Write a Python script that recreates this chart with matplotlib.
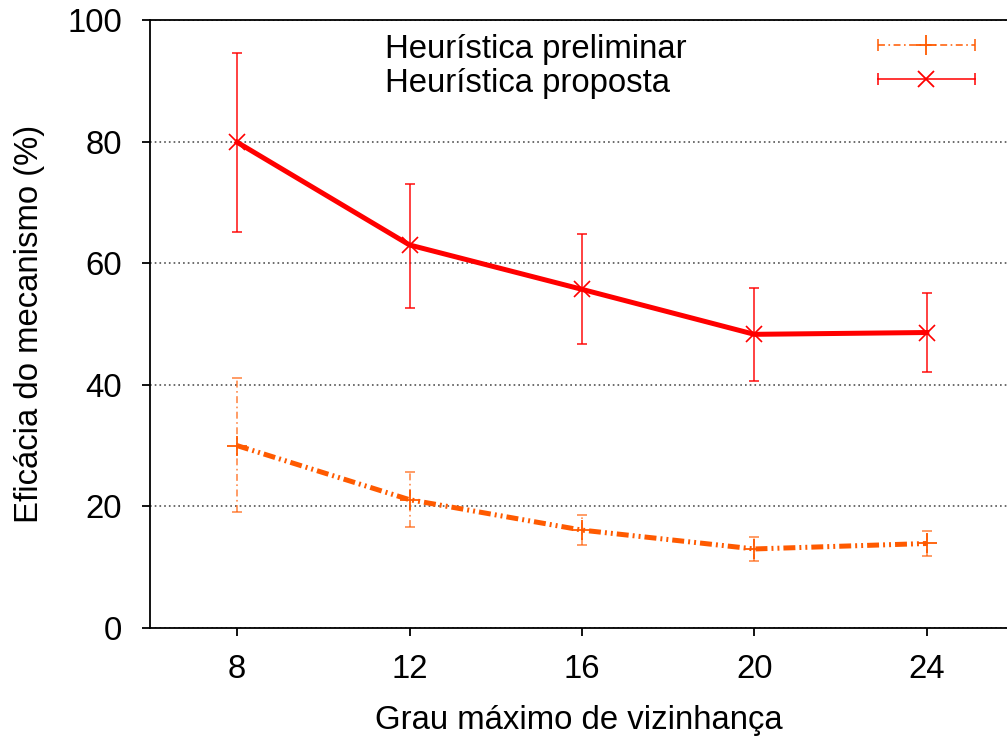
import matplotlib
matplotlib.use("Agg")
import matplotlib.pyplot as plt

plt.rcParams["font.family"] = ["Liberation Sans", "DejaVu Sans"]
plt.rcParams["lines.scale_dashes"] = False

# ── Data ───────────────────────────────────────────────────────────────────────
grau = [8, 12, 16, 20, 24]

proposta_media = [79.9, 63.0, 55.7, 48.3, 48.6]
proposta_min   = [65.1, 52.7, 46.7, 40.6, 42.1]
proposta_max   = [94.5, 73.1, 64.8, 55.9, 55.1]

prelim_media = [30.0, 21.1, 16.1, 13.0, 13.9]
prelim_min   = [19.0, 16.6, 13.6, 11.0, 11.9]
prelim_max   = [41.1, 25.6, 18.6, 15.0, 15.9]

labels = ["Heurística preliminar", "Heurística proposta"]

RED = "#ff0000"
ORANGE = "#ff5a00"
FS = 23.7
DASH_DOT_DOT = (0, (8.6, 2.9, 1.4, 2.9, 1.4, 2.9))
DASH_DOT = (0, (5, 2.5, 1.2, 2.5))

fig = plt.figure(figsize=(10.07, 7.38), dpi=100)
ax = fig.add_axes([150 / 1007, 110 / 738, 857 / 1007, 608 / 738])


def err(media, lo, hi):
    return [[m - l for m, l in zip(media, lo)], [h - m for m, h in zip(media, hi)]]


# ── Heurística preliminar ──────────────────────────────────────────────────────
eb = ax.errorbar(grau, prelim_media, yerr=err(prelim_media, prelim_min, prelim_max),
                 fmt="none", ecolor=ORANGE, elinewidth=1.2, capsize=3.6,
                 capthick=1.2, alpha=0.7, zorder=3)
for col in eb[2]:
    col.set_linestyle(DASH_DOT)
ax.plot(grau, prelim_media, color=ORANGE, lw=3.6, linestyle=DASH_DOT_DOT, zorder=4)
ax.plot(grau, prelim_media, color=ORANGE, ls="none", marker="+", ms=14,
        mew=1.3, zorder=5)

# ── Heurística proposta ────────────────────────────────────────────────────────
ax.errorbar(grau, proposta_media, yerr=err(proposta_media, proposta_min, proposta_max),
            fmt="none", ecolor=RED, elinewidth=1.3, capsize=3.6, capthick=1.3,
            alpha=0.8, zorder=3)
ax.plot(grau, proposta_media, color=RED, lw=3.6, zorder=4)
ax.plot(grau, proposta_media, color=RED, ls="none", marker="x", ms=12,
        mew=1.2, zorder=5)

# ── Axes ───────────────────────────────────────────────────────────────────────
ax.set_xlim(5.98, 25.86)
ax.set_ylim(0, 100)
ax.set_xticks(grau)
ax.set_yticks([0, 20, 40, 60, 80, 100])
ax.tick_params(labelsize=FS, length=6, width=1.3, pad=13, direction="out")
ax.tick_params(axis="y", pad=14)
ax.spines["right"].set_visible(False)
for s in ["left", "bottom", "top"]:
    ax.spines[s].set_linewidth(1.3)
ax.yaxis.grid(True, linestyle=(0, (1.2, 2.2)), color="#444444", linewidth=1.1)
ax.set_axisbelow(True)

ax.set_xlabel("Grau máximo de vizinhança", fontsize=FS, labelpad=14)
ax.set_ylabel("Eficácia do mecanismo (%)", fontsize=FS, labelpad=16)

# ── Legend (gnuplot style: text left, sample right) ───────────────────────────
x0, x1, xm = 0.8495, 0.9627, 0.906
rows = [(0.9589, ORANGE, DASH_DOT, "+", 14), (0.903, RED, "-", "x", 12)]
for (y, c, ls, mk, ms), lab in zip(rows, labels):
    ax.text(0.274, y - 0.007, lab, transform=ax.transAxes, fontsize=FS,
            va="center", ha="left")
    ax.plot([x0, x1], [y, y], transform=ax.transAxes, color=c, lw=1.3,
            linestyle=ls, clip_on=False, alpha=0.85)
    ax.plot([x0, x1], [y, y], transform=ax.transAxes, color=c, ls="none",
            marker="|", ms=8, mew=1.3, clip_on=False, alpha=0.85)
    ax.plot([xm], [y], transform=ax.transAxes, color=c, ls="none",
            marker=mk, ms=ms, mew=1.3, clip_on=False)

fig.savefig("out.png", dpi=100)
